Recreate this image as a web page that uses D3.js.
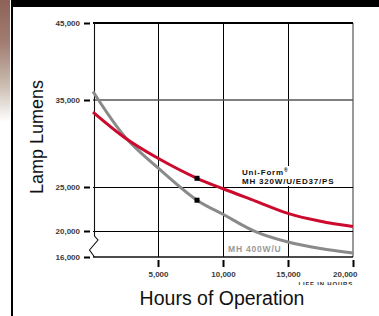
<!DOCTYPE html>
<html>
<head>
<meta charset="utf-8">
<script src="https://cdn.jsdelivr.net/npm/d3@7"></script>
<style>
  body { margin: 0; background: #fff; }
  svg  { display: block; font-family: "Liberation Sans", Arial, Helvetica, sans-serif; }
</style>
</head>
<body>
<div class="playground"></div>
<script>
// chart values
var hours      = [0, 2500, 5000, 8000, 10000, 12500, 15000, 17500, 20000];
var uniForm    = [33600, 30600, 28300, 26000, 24800, 23400, 22000, 21100, 20500];
var mh400      = [36100, 30700, 27200, 23500, 21900, 19900, 18300, 17300, 16600];
var markHour   = 8000;
var yTicks     = [16000, 20000, 25000, 35000, 45000];
var xTicks     = [5000, 10000, 15000, 20000];
var xGrid      = [5000, 10000, 15000];

var width      = 379,
    height     = 316;

var svg        = d3.select(".playground")
                   .append("svg")
                   .attr("width", width)
                   .attr("height", height);

// x is linear, y is broken (compressed below 20,000)
var x          = d3.scaleLinear().domain([0, 20000]).range([93, 353]);
var y          = d3.scaleLinear()
                   .domain([16000, 20000, 25000, 35000, 45000])
                   .range([257, 231, 187, 100, 23]);

// page decoration: faded strip at left, black rules
var grad = svg.append("defs").append("linearGradient")
              .attr("id", "strip").attr("x1", 0).attr("y1", 0).attr("x2", 0).attr("y2", 1);
grad.append("stop").attr("offset", "0%").attr("stop-color", "#8e6258");
grad.append("stop").attr("offset", "35%").attr("stop-color", "#a27d72");
grad.append("stop").attr("offset", "70%").attr("stop-color", "#cbbdb0");
grad.append("stop").attr("offset", "100%").attr("stop-color", "#ffffff");

svg.append("rect").attr("x", 0).attr("y", 0).attr("width", 10).attr("height", 122)
   .attr("fill", "url(#strip)");
svg.append("rect").attr("x", 11).attr("y", 0).attr("width", 2).attr("height", height).attr("fill", "#000");
svg.append("rect").attr("x", 11).attr("y", 0).attr("width", width - 11).attr("height", 7).attr("fill", "#000");

svg.append("clipPath").attr("id", "cut")
   .append("rect").attr("x", 0).attr("y", 0).attr("width", 358).attr("height", 285);

var chart = svg.append("g").attr("clip-path", "url(#cut)");

// vertical grid
chart.append("g")
     .selectAll("line")
     .data(xGrid)
     .enter()
     .append("line")
     .attr("x1", function(d) { return x(d) + 0.5; })
     .attr("x2", function(d) { return x(d) + 0.5; })
     .attr("y1", y(45000))
     .attr("y2", y(16000))
     .attr("stroke", "#000")
     .attr("stroke-width", 1);

// right border
chart.append("line")
     .attr("x1", x(20000)).attr("x2", x(20000))
     .attr("y1", y(45000)).attr("y2", y(16000))
     .attr("stroke", "#777").attr("stroke-width", 1.5);

// horizontal grid
var hGrid = [
  { v: 35000, c: "#555", w: 1.5 },
  { v: 25000, c: "#000", w: 1 },
  { v: 20000, c: "#000", w: 1 },
  { v: 16000, c: "#111", w: 1.5 },
  { v: 45000, c: "#000", w: 2.2 }
];
chart.append("g")
     .selectAll("line")
     .data(hGrid)
     .enter()
     .append("line")
     .attr("x1", x(0))
     .attr("x2", x(20000))
     .attr("y1", function(d) { return y(d.v) + (d.w === 1 ? 0.5 : 0); })
     .attr("y2", function(d) { return y(d.v) + (d.w === 1 ? 0.5 : 0); })
     .attr("stroke", function(d) { return d.c; })
     .attr("stroke-width", function(d) { return d.w; });

// left axis with the break zigzag
var x0 = x(0) + 1.5, yb = y(20000), ye = y(16000);
chart.append("path")
     .attr("d", "M" + x0 + "," + y(45000) + "V" + (yb + 5) +
                "L" + (x0 + 3.5) + "," + (yb + 9) +
                "L" + (x0 - 5) + "," + (yb + 19) +
                "L" + x0 + "," + ye)
     .attr("fill", "none")
     .attr("stroke", "#111")
     .attr("stroke-width", 1.1);

// axes
var yAxis = d3.axisLeft(y)
              .tickValues(yTicks)
              .tickFormat(d3.format(","))
              .tickSize(6)
              .tickPadding(4);
var gy = chart.append("g").attr("transform", "translate(90,0)").call(yAxis);

var xAxis = d3.axisBottom(x)
              .tickValues(xTicks)
              .tickFormat(d3.format(","))
              .tickSize(7)
              .tickPadding(4);
var gx = chart.append("g").attr("transform", "translate(0,260)").call(xAxis);

[gy, gx].forEach(function(g) {
  g.select(".domain").remove();
  g.selectAll(".tick line").attr("stroke", "#000").attr("stroke-width", 2);
  g.selectAll(".tick text")
   .attr("font-size", 8)
   .attr("font-weight", "bold")
   .attr("font-family", "Liberation Sans, Arial, sans-serif")
   .attr("letter-spacing", 0)
   .attr("fill", "#3a3a3a");
});
gx.selectAll(".tick text")
  .filter(function(d) { return d === 20000; })
  .attr("text-anchor", "end")
  .attr("x", 4);

// label clipped off by the page crop
chart.append("text")
     .attr("x", x(20000)).attr("y", 286)
     .attr("text-anchor", "end")
     .attr("font-size", 6).attr("font-weight", "bold")
     .attr("letter-spacing", 0.8)
     .attr("fill", "#333")
     .text("LIFE IN HOURS");

// curves
var line = d3.line()
             .x(function(d) { return x(d[0]); })
             .y(function(d) { return y(d[1]); })
             .curve(d3.curveCatmullRom.alpha(0.5));

var grayData = hours.map(function(h, i) { return [h, mh400[i]]; });
var redData  = hours.map(function(h, i) { return [h, uniForm[i]]; });

chart.append("path").datum(grayData).attr("d", line)
     .attr("fill", "none").attr("stroke", "#8a8a8a").attr("stroke-width", 3);
chart.append("path").datum(redData).attr("d", line)
     .attr("fill", "none").attr("stroke", "#cc0a2e").attr("stroke-width", 3);

// markers at 8,000 hours
var markIdx = hours.indexOf(markHour);
chart.append("g")
     .selectAll("rect")
     .data([uniForm[markIdx], mh400[markIdx]])
     .enter()
     .append("rect")
     .attr("x", x(markHour) - 2.5)
     .attr("y", function(d) { return y(d) - 2.5; })
     .attr("width", 5)
     .attr("height", 5)
     .attr("fill", "#000");

// series labels
chart.append("rect").attr("x", 240).attr("y", 166).attr("width", 103).attr("height", 20).attr("fill", "#fff");
var lab = chart.append("text")
               .attr("font-size", 8).attr("font-weight", "bold")
               .attr("letter-spacing", 0.8).attr("fill", "#111");
lab.append("tspan").attr("x", 242).attr("y", 175).text("Uni-Form");
lab.append("tspan").attr("dy", -3).attr("font-size", 5).attr("letter-spacing", 0).text("®");
lab.append("tspan").attr("x", 242).attr("y", 184).text("MH 320W/U/ED37/PS");

chart.append("text")
     .attr("x", 228).attr("y", 252)
     .attr("font-size", 8.5).attr("font-weight", "bold")
     .attr("letter-spacing", 0.8).attr("fill", "#999")
     .text("MH 400W/U");

// axis titles
svg.append("text")
   .attr("transform", "translate(43,137) rotate(-90)")
   .attr("text-anchor", "middle")
   .attr("font-size", 18)
   .attr("fill", "#111")
   .text("Lamp Lumens");

svg.append("text")
   .attr("x", 222).attr("y", 305)
   .attr("text-anchor", "middle")
   .attr("font-size", 19.5)
   .attr("fill", "#111")
   .text("Hours of Operation");
</script>
</body>
</html>
